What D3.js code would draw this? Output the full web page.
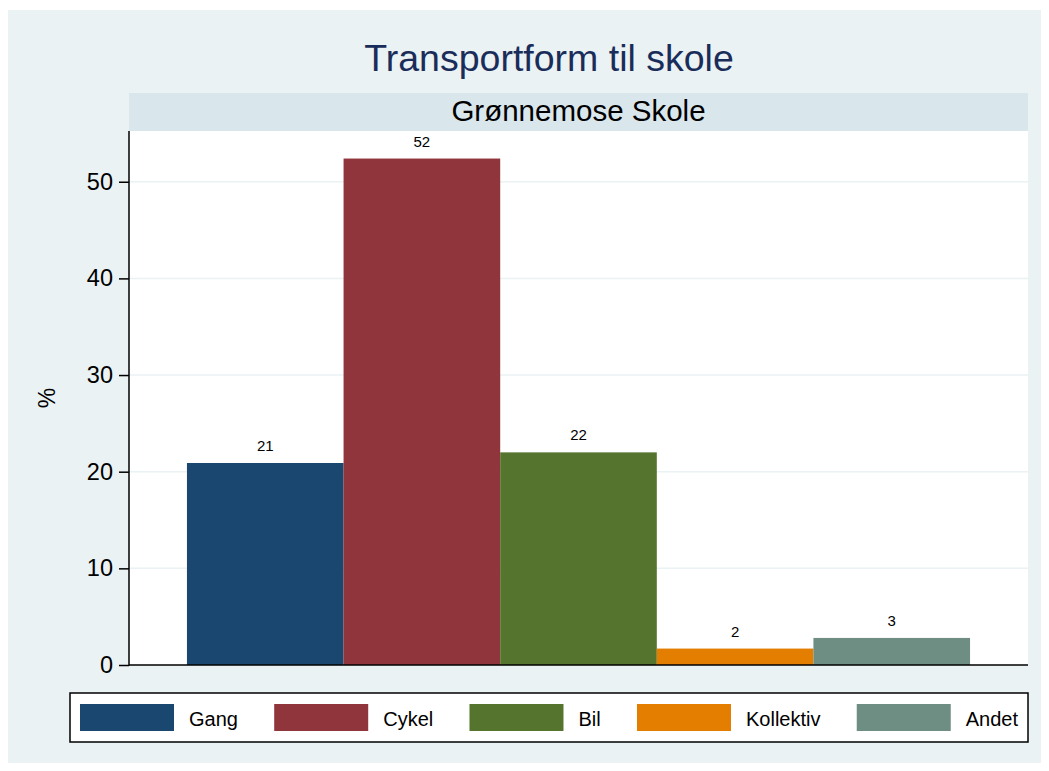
<!DOCTYPE html>
<html>
<head>
<meta charset="utf-8">
<script src="https://cdn.jsdelivr.net/npm/d3@7"></script>
<style>
  html, body { margin: 0; padding: 0; background: #ffffff; }
  svg { display: block; font-family: "Liberation Sans", Arial, Helvetica, sans-serif; }
</style>
</head>
<body>
<svg id="chart" width="1049" height="771"></svg>
<script>
const categories = ["Gang", "Cykel", "Bil", "Kollektiv", "Andet"];
const values = [20.9, 52.4, 22.0, 1.7, 2.8];
const barLabels = ["21", "52", "22", "2", "3"];
const colors = ["#1A476F", "#90353B", "#55752F", "#E37E00", "#6E8E84"];
const yTicks = [0, 10, 20, 30, 40, 50];
const title = "Transportform til skole";
const subtitle = "Grønnemose Skole";
const yTitle = "%";

const svg = d3.select("#chart");
const W = 1049, H = 771;

// outer background
svg.append("rect").attr("x", 0).attr("y", 0).attr("width", W).attr("height", H).attr("fill", "#ffffff");
svg.append("rect").attr("x", 8).attr("y", 10).attr("width", 1033).attr("height", 753).attr("fill", "#EAF2F3");

const plot = { left: 129, right: 1028, top: 131, bottom: 665 };

// title
svg.append("text").attr("x", 549).attr("y", 71)
  .attr("text-anchor", "middle").attr("font-size", 37.5).attr("fill", "#1A2D5A").text(title);

// header strip
svg.append("rect").attr("x", plot.left).attr("y", 93).attr("width", plot.right - plot.left).attr("height", plot.top - 93)
  .attr("fill", "#D9E6EB");
svg.append("text").attr("x", (plot.left + plot.right) / 2).attr("y", 120.5)
  .attr("text-anchor", "middle").attr("font-size", 29.5).attr("fill", "#000").text(subtitle);

// plot area
svg.append("rect").attr("x", plot.left).attr("y", plot.top).attr("width", plot.right - plot.left).attr("height", plot.bottom - plot.top)
  .attr("fill", "#ffffff");

const y = d3.scaleLinear().domain([0, 55.25]).range([plot.bottom, plot.top]);
const x = d3.scaleBand().domain(categories).range([plot.left, plot.right]).paddingInner(0).paddingOuter(0.37);

// gridlines
svg.append("g").selectAll("line").data(yTicks.filter(d => d > 0)).join("line")
  .attr("x1", plot.left).attr("x2", plot.right)
  .attr("y1", d => y(d)).attr("y2", d => y(d))
  .attr("stroke", "#EAF2F3").attr("stroke-width", 1.5);

// bars
svg.append("g").selectAll("rect").data(categories).join("rect")
  .attr("x", d => x(d)).attr("width", x.bandwidth())
  .attr("y", (d, i) => y(values[i])).attr("height", (d, i) => y(0) - y(values[i]))
  .attr("fill", (d, i) => colors[i]);

// bar labels
svg.append("g").selectAll("text").data(categories).join("text")
  .attr("x", d => x(d) + x.bandwidth() / 2)
  .attr("y", (d, i) => y(values[i]) - 12)
  .attr("text-anchor", "middle").attr("font-size", 15).attr("fill", "#000")
  .text((d, i) => barLabels[i]);

// y axis
const yAxis = d3.axisLeft(y).tickValues(yTicks).tickSize(10).tickPadding(6);
const gy = svg.append("g").attr("transform", `translate(${plot.left},0)`).call(yAxis);
gy.select(".domain").remove();
gy.selectAll(".tick line").attr("stroke", "#000").attr("stroke-width", 1.5);
gy.selectAll(".tick text").attr("font-size", 23.5).attr("fill", "#000")
  .attr("font-family", "Liberation Sans, Arial, sans-serif");
svg.append("line").attr("x1", plot.left).attr("x2", plot.left).attr("y1", plot.top).attr("y2", plot.bottom + 0.75)
  .attr("stroke", "#000").attr("stroke-width", 1.5);
// x axis line
svg.append("line").attr("x1", plot.left).attr("x2", plot.right).attr("y1", plot.bottom).attr("y2", plot.bottom)
  .attr("stroke", "#000").attr("stroke-width", 1.5);

// y title
svg.append("text").attr("transform", `translate(55,${(plot.top + plot.bottom) / 2}) rotate(-90)`)
  .attr("text-anchor", "middle").attr("font-size", 23).attr("fill", "#000").text(yTitle);

// legend
const leg = { x: 70, y: 693, w: 958, h: 49 };
svg.append("rect").attr("x", leg.x).attr("y", leg.y).attr("width", leg.w).attr("height", leg.h)
  .attr("fill", "#ffffff").attr("stroke", "#000").attr("stroke-width", 1.5);
const swW = 94, swH = 27, swGap = 15, innerPad = 10;
const lg = svg.append("g");
const texts = lg.selectAll("text").data(categories).join("text")
  .attr("font-size", 20).attr("fill", "#000").attr("y", 725.5).text(d => d);
const widths = [];
texts.each(function () { widths.push(this.getComputedTextLength()); });
const itemW = widths.map(w => swW + swGap + w);
const totalItems = d3.sum(itemW);
const avail = leg.w - 2 * innerPad;
const gap = (avail - totalItems) / (categories.length - 1);
let cx = leg.x + innerPad;
const starts = [];
itemW.forEach(w => { starts.push(cx); cx += w + gap; });
lg.selectAll("rect").data(categories).join("rect")
  .attr("x", (d, i) => starts[i]).attr("y", 704).attr("width", swW).attr("height", swH)
  .attr("fill", (d, i) => colors[i]);
texts.attr("x", (d, i) => starts[i] + swW + swGap);
</script>
</body>
</html>
